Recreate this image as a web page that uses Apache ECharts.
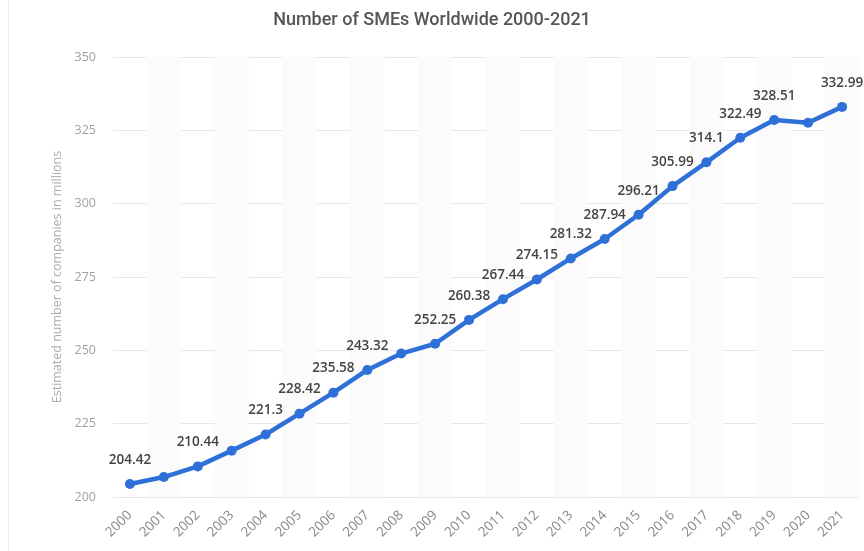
<!DOCTYPE html>
<html>
<head>
<meta charset="utf-8">
<script src="https://cdn.jsdelivr.net/npm/echarts@6/dist/echarts.min.js"></script>
<style>html,body{margin:0;padding:0;background:#fff}#c{width:864px;height:551px}</style>
</head>
<body>
<div id="c"></div>
<script>
const years = ['2000','2001','2002','2003','2004','2005','2006','2007','2008','2009','2010','2011','2012','2013','2014','2015','2016','2017','2018','2019','2020','2021'];
const values = [204.42, 206.8, 210.44, 215.8, 221.3, 228.42, 235.58, 243.32, 248.9, 252.25, 260.38, 267.44, 274.15, 281.32, 287.94, 296.21, 305.99, 314.1, 322.49, 328.51, 327.6, 332.99];
const labelShown = [true, false, true, false, true, true, true, true, false, true, true, true, true, true, true, true, true, true, true, true, false, true];
const yTicks = [200, 225, 250, 275, 300, 325, 350];

const chart = echarts.init(document.getElementById('c'));
chart.setOption({
  animation: false,
  backgroundColor: '#fff',
  title: {
    text: 'Number of SMEs Worldwide 2000-2021',
    left: 'center', top: 6,
    textStyle: {fontFamily: 'Roboto', fontSize: 18, fontWeight: 500, color: '#555'}
  },
  graphic: [{type: 'line', shape: {x1: 8.5, y1: 0, x2: 8.5, y2: 551}, style: {stroke: '#eee', lineWidth: 1}}],
  grid: {left: 113, right: 5, top: 57, bottom: 54},
  xAxis: {
    type: 'category', data: years, boundaryGap: true,
    axisLine: {show: false}, axisTick: {show: false},
    axisLabel: {rotate: 45, color: '#888', fontSize: 13.5, fontFamily: 'Open Sans', margin: 16},
    splitArea: {show: true, areaStyle: {color: ['rgba(255,255,255,0)', '#fbfbfb']}}
  },
  yAxis: {
    type: 'value', min: yTicks[0], max: yTicks[yTicks.length - 1], interval: 25,
    name: 'Estimated number of companies in millions',
    nameLocation: 'middle', nameGap: 49,
    nameTextStyle: {color: '#aaa', fontSize: 12.5, fontFamily: 'Open Sans'},
    axisLine: {show: false}, axisTick: {show: false},
    axisLabel: {color: '#a0a0a0', fontSize: 12.5, fontFamily: 'Open Sans', margin: 17},
    splitLine: {lineStyle: {color: '#e8e8e8', width: 1}}
  },
  series: [{
    type: 'line',
    data: values.map((v, i) => ({value: v, label: {show: labelShown[i]}})),
    lineStyle: {color: '#2e70d8', width: 4.5},
    itemStyle: {color: '#2e70d8'},
    symbol: 'circle', symbolSize: 10,
    label: {show: true, position: 'top', distance: 12, color: '#444', fontSize: 13.5, fontWeight: 600, fontFamily: 'Open Sans'}
  }]
});
</script>
</body>
</html>
